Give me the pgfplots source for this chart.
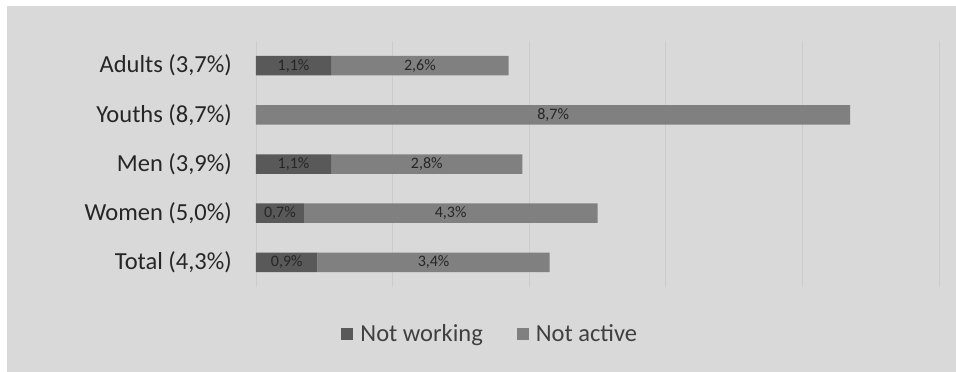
\documentclass[border=0pt]{standalone}
\usepackage{pgfplots}
\pgfplotsset{compat=1.18}
\usepackage{fontspec}
\setmainfont{Carlito}
\definecolor{bg}{HTML}{D9D9D9}
\definecolor{dk}{HTML}{595959}
\definecolor{lt}{HTML}{808080}
\definecolor{gridc}{HTML}{CCCCCC}
\definecolor{txt}{HTML}{262626}
\definecolor{lab}{HTML}{404040}
\begin{document}
\begin{tikzpicture}[x=1pt,y=1pt]
\fill[white] (-256,-85) rectangle (700,287);
\fill[bg] (-249,-85) rectangle (700,281);
\begin{axis}[
  at={(0,0)}, anchor=south west,
  scale only axis, width=683pt, height=246pt,
  xbar stacked, bar width=19.5pt,
  xmin=0, xmax=10, ymin=-0.5, ymax=4.5,
  xtick={0,2,4,6,8,10}, xticklabels={},
  xmajorgrids, grid style={gridc, line width=0.8pt},
  major tick length=0pt,
  axis line style={draw=none},
  ytick={0,1,2,3,4},
  yticklabels={{Total (4,3\%)}, {Women (5,0\%)}, {Men (3,9\%)}, {Youths (8,7\%)}, {Adults (3,7\%)}},
  yticklabel style={font=\fontsize{24.5}{26}\selectfont, text=txt, inner sep=0pt, xshift=-24pt},
  nodes near coords,
  point meta=explicit symbolic,
  every node near coord/.append style={font=\fontsize{16}{18}\selectfont, text=txt, anchor=center},
  legend columns=2,
  legend style={draw=none, fill=none, at={(0.343,-0.191)}, anchor=center,
    font=\fontsize{24.5}{26}\selectfont, text=lab,
    /tikz/every odd column/.append style={column sep=5pt},
    /tikz/every even column/.append style={column sep=32pt}},
  legend image code/.code={\fill[#1] (0pt,-6pt) rectangle (12pt,6pt);},
]
\addplot[fill=dk, draw=none] coordinates {
  (0.9,0) [0,9\%] (0.7,1) [0,7\%] (1.1,2) [1,1\%] (0,3) [] (1.1,4) [1,1\%]
};
\addplot[fill=lt, draw=none] coordinates {
  (3.4,0) [3,4\%] (4.3,1) [4,3\%] (2.8,2) [2,8\%] (8.7,3) [8,7\%] (2.6,4) [2,6\%]
};
\legend{Not working, Not active}
\end{axis}
\end{tikzpicture}
\end{document}
